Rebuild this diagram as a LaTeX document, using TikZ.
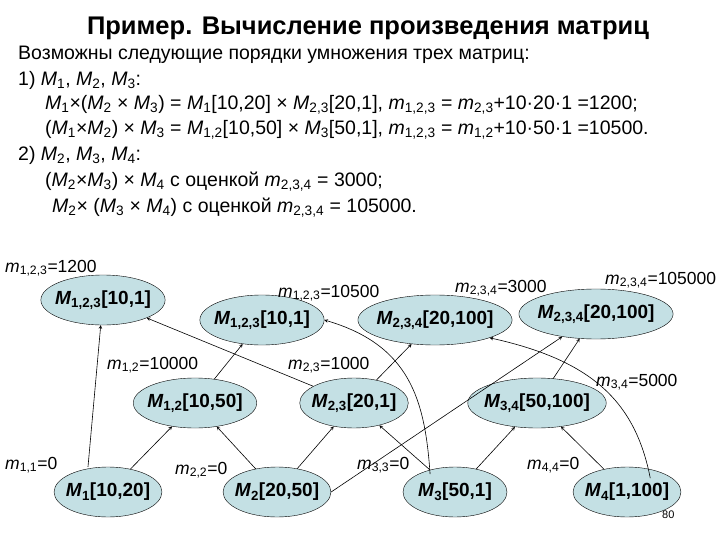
\documentclass[tikz,border=0pt]{standalone}
\usepackage{fontspec}
\setmainfont{Liberation Sans}
\definecolor{nodefill}{RGB}{196,224,228}
\begin{document}
\begin{tikzpicture}[x=1pt,y=-1pt,
  mnode/.style={ellipse,draw,fill=nodefill,minimum width=104pt,minimum height=50pt,inner sep=-4pt,font=\fontsize{19}{21}\selectfont\bfseries},
  lab/.style={anchor=west,font=\fontsize{17.5}{20}\selectfont,inner sep=0pt},
  txt/.style={anchor=west,font=\fontsize{19.5}{22}\selectfont,inner sep=0pt},
  arr/.style={->,>=stealth,semithick}]
\usetikzlibrary{shapes.geometric}
\useasboundingbox (0,0) rectangle (720,540);
\node[font=\fontsize{25.5}{28}\selectfont\bfseries] (title) at (368,28) {Пример. Вычисление произведения матриц};
\node[txt] (t1) at (18,55) {Возможны следующие порядки умножения трех матриц:};
\node[txt] (t2) at (18,80) {1) \textit{M}\textsubscript{1}, \textit{M}\textsubscript{2}, \textit{M}\textsubscript{3}:};
\node[txt] (t3) at (45,105) {\textit{M}\textsubscript{1}×(\textit{M}\textsubscript{2} × \textit{M}\textsubscript{3}) = \textit{M}\textsubscript{1}[10,20] × \textit{M}\textsubscript{2,3}[20,1], \textit{m}\textsubscript{1,2,3} = \textit{m}\textsubscript{2,3}+10·20·1 =1200;};
\node[txt] (t4) at (45,130) {(\textit{M}\textsubscript{1}×\textit{M}\textsubscript{2}) × \textit{M}\textsubscript{3} = \textit{M}\textsubscript{1,2}[10,50] × \textit{M}\textsubscript{3}[50,1], \textit{m}\textsubscript{1,2,3} = \textit{m}\textsubscript{1,2}+10·50·1 =10500.};
\node[txt] (t5) at (18,155) {2) \textit{M}\textsubscript{2}, \textit{M}\textsubscript{3}, \textit{M}\textsubscript{4}:};
\node[txt] (t6) at (45,182) {(\textit{M}\textsubscript{2}×\textit{M}\textsubscript{3}) × \textit{M}\textsubscript{4} с оценкой \textit{m}\textsubscript{2,3,4} = 3000;};
\node[txt] (t7) at (52,208) {\textit{M}\textsubscript{2}× (\textit{M}\textsubscript{3} × \textit{M}\textsubscript{4}) с оценкой \textit{m}\textsubscript{2,3,4} = 105000.};

\node[mnode] (m1) at (108,492) {\textit{M}\textsubscript{1}[10,20]};
\node[mnode] (m2) at (277,492) {\textit{M}\textsubscript{2}[20,50]};
\node[mnode] (m3) at (455,492) {\textit{M}\textsubscript{3}[50,1]};
\node[mnode] (m4) at (627,492) {\textit{M}\textsubscript{4}[1,100]};
\node[mnode] (m12) at (195,403) {\textit{M}\textsubscript{1,2}[10,50]};
\node[mnode] (m23) at (354,403) {\textit{M}\textsubscript{2,3}[20,1]};
\node[mnode] (m34) at (537,403) {\textit{M}\textsubscript{3,4}[50,100]};
\node[mnode] (a123) at (103,300) {\textit{M}\textsubscript{1,2,3}[10,1]};
\node[mnode] (b123) at (262,320) {\textit{M}\textsubscript{1,2,3}[10,1]};
\node[mnode] (a234) at (435,320) {\textit{M}\textsubscript{2,3,4}[20,100]};
\node[mnode] (b234) at (596,314) {\textit{M}\textsubscript{2,3,4}[20,100]};

\node[lab] (l1) at (5,268) {\textit{m}\textsubscript{1,2,3}=1200};
\node[lab] (l2) at (278,293) {\textit{m}\textsubscript{1,2,3}=10500};
\node[lab] (l3) at (455,288) {\textit{m}\textsubscript{2,3,4}=3000};
\node[lab] (l4) at (605,280) {\textit{m}\textsubscript{2,3,4}=105000};
\node[lab] (l5) at (107,365) {\textit{m}\textsubscript{1,2}=10000};
\node[lab] (l6) at (288,365) {\textit{m}\textsubscript{2,3}=1000};
\node[lab] (l7) at (596,382) {\textit{m}\textsubscript{3,4}=5000};
\node[lab] (l8) at (5,465) {\textit{m}\textsubscript{1,1}=0};
\node[lab] (l9) at (175,470) {\textit{m}\textsubscript{2,2}=0};
\node[lab] (l10) at (357,465) {\textit{m}\textsubscript{3,3}=0};
\node[lab] (l11) at (527,465) {\textit{m}\textsubscript{4,4}=0};
\node[lab,font=\fontsize{11}{12}\selectfont] (pg) at (662,515) {80};

\draw[arr] (m1.north) ++(-20,0) coordinate (m1a) (m1a) -- (a123);
\draw[arr] (m1) -- (m12);
\draw[arr] (m2) -- (m12);
\draw[arr] (m2) -- (m23);
\draw[arr] (m2.east) -- (b234);
\draw[arr] (m3) -- (m23);
\draw[arr] (m3) -- (m34);
\draw[arr] (m3.north west) ++(12,0) coordinate (m3a) (m3a) .. controls (425,400) and (410,345) .. (b123.east);
\draw[arr] (m4) -- (m34);
\draw[arr] (m4.north east) ++(-15,4) coordinate (m4a) (m4a) .. controls (635,400) and (590,360) .. (a234.south east);
\draw[arr] (m12) -- (b123);
\draw[arr] (m23) -- (a123);
\draw[arr] (m23) -- (a234);
\draw[arr] (m34) -- (b234);
\end{tikzpicture}
\end{document}
